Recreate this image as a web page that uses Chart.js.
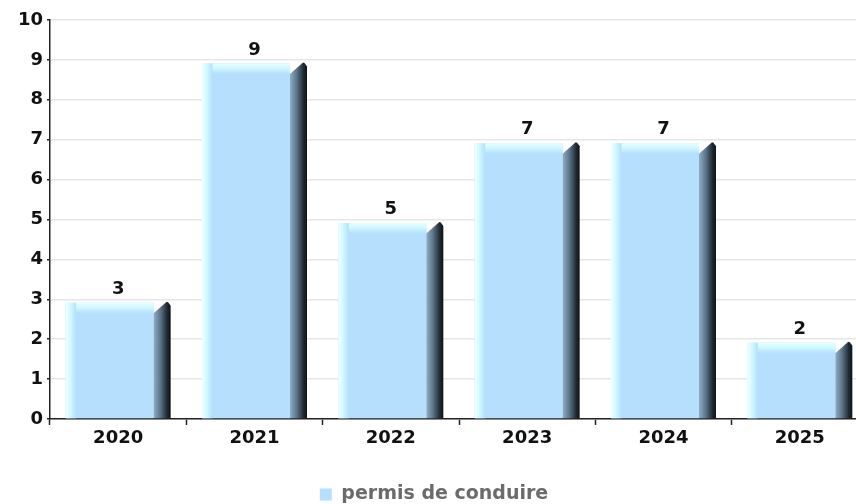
<!DOCTYPE html>
<html>
<head>
<meta charset="utf-8">
<script src="https://cdn.jsdelivr.net/npm/chart.js@4/dist/chart.umd.min.js"></script>
<style>
  html, body { margin: 0; padding: 0; background: #fff; overflow: hidden; }
  #wrap { width: 856px; height: 504px; overflow: hidden; }
</style>
</head>
<body>
<div id="wrap"><canvas id="c" width="878" height="504"></canvas></div>
<script>
// Permis de conduire obtenus par année
const years = ['2020', '2021', '2022', '2023', '2024', '2025'];
const permis = [3, 9, 5, 7, 7, 2];
const yTicks = [0, 1, 2, 3, 4, 5, 6, 7, 8, 9, 10];

const FACE = '#b5dffc';
const FONT = '"DejaVu Sans", Verdana, sans-serif';

// Draws each bar as a front face with a soft cyan rim and a dark side face,
// plus the value above it, using the positions the bar controller computed.
const bar3d = {
  id: 'bar3d',
  afterDatasetsDraw(chart) {
    const ctx = chart.ctx;
    const meta = chart.getDatasetMeta(0);
    const values = chart.data.datasets[0].data;
    ctx.save();
    meta.data.forEach((bar, i) => {
      const { x, y, base, width } = bar.getProps(['x', 'y', 'base', 'width'], true);
      const L = x - width / 2, R = x + width / 2;
      const d = 17, rim = 10.5;
      const top = y + 3.5, front = top + rim;
      const fr = R - d;

      // front face
      ctx.fillStyle = FACE;
      ctx.fillRect(L, top, fr - L, base - top);

      // top rim
      let g = ctx.createLinearGradient(0, top, 0, front);
      g.addColorStop(0, '#e6ffff');
      g.addColorStop(0.5, '#cdf7ff');
      g.addColorStop(1, FACE);
      ctx.fillStyle = g;
      ctx.fillRect(L, top, fr - L, rim);

      // left rim
      g = ctx.createLinearGradient(L, 0, L + rim, 0);
      g.addColorStop(0, '#f2ffff');
      g.addColorStop(0.45, '#d0f9ff');
      g.addColorStop(1, FACE);
      ctx.fillStyle = g;
      ctx.fillRect(L, top, rim, base - top);

      // side face
      g = ctx.createLinearGradient(fr, 0, R, 0);
      g.addColorStop(0, '#8eaec6');
      g.addColorStop(0.4, '#5b7488');
      g.addColorStop(0.8, '#1f2831');
      g.addColorStop(1, '#0d1115');
      ctx.fillStyle = g;
      ctx.beginPath();
      ctx.moveTo(fr, front);
      ctx.lineTo(R - 4, top - 1);
      ctx.lineTo(R - 2.5, top - 0.5);
      ctx.lineTo(R, top + 3);
      ctx.lineTo(R, base);
      ctx.lineTo(fr, base);
      ctx.closePath();
      ctx.fill();

      // value label
      ctx.fillStyle = '#111';
      ctx.font = 'bold 18px ' + FONT;
      ctx.textAlign = 'center';
      ctx.textBaseline = 'middle';
      ctx.fillText(String(values[i]), x, y - 10);
    });
    ctx.restore();
  }
};

new Chart(document.getElementById('c'), {
  type: 'bar',
  data: {
    labels: years,
    datasets: [{
      label: 'permis de conduire',
      data: permis,
      backgroundColor: 'rgba(0,0,0,0)',
      borderWidth: 0,
      barPercentage: 0.77,
      categoryPercentage: 1.0
    }]
  },
  options: {
    responsive: false,
    animation: false,
    layout: { padding: { top: 20, right: 10, left: 0, bottom: -10 } },
    plugins: {
      tooltip: { enabled: false },
      legend: {
        position: 'bottom',
        labels: {
          boxWidth: 12,
          boxHeight: 12,
          padding: 2,
          color: '#6b6b6b',
          font: { family: FONT, size: 19, weight: 'bold' },
          generateLabels(chart) {
            return chart.data.datasets.map((ds, i) => ({
              text: ds.label,
              fillStyle: FACE,
              strokeStyle: FACE,
              lineWidth: 0,
              hidden: false,
              datasetIndex: i,
              fontColor: '#6b6b6b'
            }));
          }
        }
      }
    },
    scales: {
      x: {
        grid: {
          offset: true,
          drawOnChartArea: false,
          drawTicks: true,
          tickLength: 6,
          tickColor: '#222',
          tickWidth: 1.5
        },
        border: { display: true, color: '#222', width: 1.5 },
        ticks: {
          color: '#111',
          padding: 3,
          font: { family: FONT, size: 18, weight: 'bold' }
        },
        afterFit(scale) { scale.height = 64; }
      },
      y: {
        min: 0,
        max: 10,
        afterBuildTicks(scale) { scale.ticks = yTicks.map(v => ({ value: v })); },
        grid: {
          color: '#e6e6e6',
          lineWidth: 1.5,
          tickLength: 3,
          tickColor: '#222'
        },
        border: { display: true, color: '#222', width: 1.5 },
        ticks: {
          color: '#111',
          padding: 4,
          font: { family: FONT, size: 18, weight: 'bold' }
        },
        afterFit(scale) { scale.width = 50; }
      }
    }
  },
  plugins: [bar3d]
});
</script>
</body>
</html>
